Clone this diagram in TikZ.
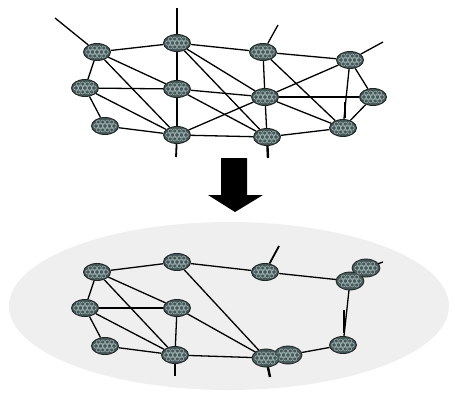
\documentclass[tikz,border=0pt]{standalone}
\usetikzlibrary{shapes.geometric}
\pgfdeclarelayer{back}
\pgfdeclarelayer{edges}
\pgfsetlayers{back,edges,main}
\definecolor{nodefill}{RGB}{72,88,88}
\definecolor{nodeedge}{RGB}{30,38,38}
\definecolor{nodering}{RGB}{160,182,182}
\definecolor{cloudbg}{RGB}{239,239,239}
\tikzset{
  router/.style={ellipse, minimum width=27pt, minimum height=17pt, inner sep=0pt,
    fill=nodefill, draw=nodeedge, line width=0.9pt,
    path picture={
      \foreach \dx in {-9,-4.5,0,4.5,9}
        \draw[nodering, line width=0.7pt]
          ([xshift=\dx pt]path picture bounding box.center) circle (2.3pt);
      \foreach \dx in {-6.75,-2.25,2.25,6.75} {
        \draw[nodering, line width=0.5pt]
          ([xshift=\dx pt, yshift=4pt]path picture bounding box.center) circle (2pt);
        \draw[nodering, line width=0.5pt]
          ([xshift=\dx pt, yshift=-4pt]path picture bounding box.center) circle (2pt);
      }
    }},
  % lobes of a merged router: outline comes from a dark underlay
  lobe/.style={router, draw=none},
  underlay/.style={fill=nodeedge},
  link/.style={draw=black, line width=1.3pt},
  stub/.style={draw=black, line width=2.4pt},
  bigarrow/.style={fill=black},
}
\begin{document}
\begin{tikzpicture}[x=1pt, y=-1pt]
\useasboundingbox (0,0) rectangle (455,394);

% ---------- upper network ----------
\node[router] (A) at (97,52) {};
\node[router] (B) at (177,43) {};
\node[router] (C) at (85,88) {};
\node[router] (D) at (177,89) {};
\node[router] (E) at (105,126) {};
\node[router] (F) at (177,135) {};
\node[router] (G) at (263,52) {};
\node[router] (H) at (350,60) {};
\node[router] (I) at (265,97) {};
\node[router] (J) at (373,97) {};
\node[router] (K) at (343,128) {};
\node[router] (L) at (267,137) {};

\coordinate (sA) at (55,18);
\coordinate (sB) at (177,8);
\coordinate (sF) at (176,157);
\coordinate (sG) at (278,25);
\coordinate (sH) at (383,42);
\coordinate (sL) at (268,158);
\coordinate (kT) at (345,102);
\coordinate (kB) at (345,118);

\begin{pgfonlayer}{edges}
  \foreach \u/\v in {A/B, A/C, A/D, A/F, B/G, B/D, D/F, B/I, B/L, C/D, C/E, C/F,
                     E/F, D/I, D/L, F/I, F/L, G/H, G/I, G/K, H/I, H/J, H/K,
                     I/J, I/K, I/L, J/K, K/L}
    \draw[link] (\u) -- (\v);
  \draw[link] (A) -- (sA);
  \draw[link] (B) -- (sB);
  \draw[stub, line width=1.8pt] (F) -- (sF);
  \draw[link] (G) -- (sG);
  \draw[link] (H) -- (sH);
  \draw[stub] (L) -- (sL);
  \draw[stub] (kT) -- (kB);
\end{pgfonlayer}

% ---------- arrow between the two networks ----------
\fill[bigarrow] (221,158) -- (247,158) -- (247,195) -- (263,195) -- (235,212)
  -- (208,195) -- (221,195) -- cycle;

% ---------- lower network ----------
\begin{pgfonlayer}{back}
  \fill[cloudbg] (229,306) ellipse (220pt and 84pt);
\end{pgfonlayer}

% dark outlines under the two-lobed routers
\fill[underlay] (366,268) ellipse (14.4pt and 9.4pt);
\fill[underlay] (350,281) ellipse (14.4pt and 9.4pt);
\fill[underlay] (288,355) ellipse (14.4pt and 9.4pt);
\fill[underlay] (266,358) ellipse (14.4pt and 9.4pt);

\node[router] (A2) at (97,272) {};
\node[router] (B2) at (177,262) {};
\node[router] (C2) at (85,308) {};
\node[router] (D2) at (177,308) {};
\node[router] (E2) at (105,346) {};
\node[router] (F2) at (175,355) {};
\node[router] (G2) at (265,272) {};
\node[lobe] (H2b) at (366,268) {};
\node[lobe] (H2) at (350,281) {};
\node[router] (K2) at (343,345) {};
\node[lobe] (L2b) at (288,355) {};
\node[lobe] (L2) at (266,358) {};

\coordinate (sG2) at (279,246);
\coordinate (sH2) at (383,262);
\coordinate (sF2) at (175,376);
\coordinate (sL2) at (270,377);
\coordinate (kT2) at (344,310);
\coordinate (kB2) at (344,333);

\begin{pgfonlayer}{edges}
  \foreach \u/\v in {A2/B2, A2/C2, A2/D2, A2/F2, C2/D2, C2/E2, C2/F2, E2/F2,
                     D2/F2, B2/G2, B2/L2, D2/L2, F2/L2, G2/H2, H2/K2, K2/L2b}
    \draw[link] (\u) -- (\v);
  \draw[stub, line width=1.8pt] (G2) -- (sG2);
  \draw[link] (H2b) -- (sH2);
  \draw[stub] (F2) -- (sF2);
  \draw[stub] (L2) -- (sL2);
  \draw[stub, line width=2.8pt] (kT2) -- (kB2);
\end{pgfonlayer}
\end{tikzpicture}
\end{document}
